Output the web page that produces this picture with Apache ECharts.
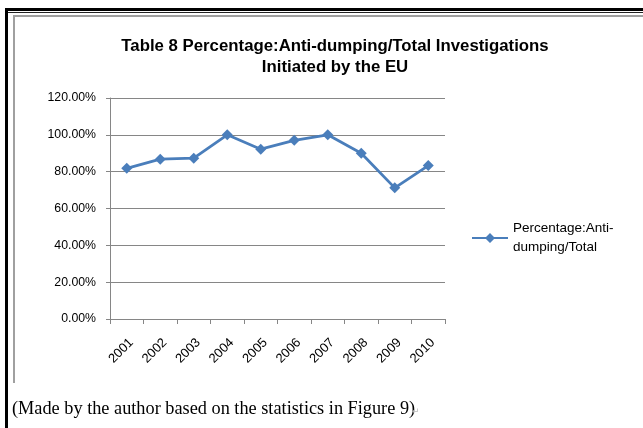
<!DOCTYPE html>
<html><head><meta charset="utf-8">
<script src="https://cdn.jsdelivr.net/npm/echarts@6/dist/echarts.min.js"></script>
<style>html,body{margin:0;padding:0;background:#fff}#c{width:643px;height:428px}</style>
</head><body><div id="c"></div>
<script>
const titleText = 'Table 8 Percentage:Anti-dumping/Total Investigations\nInitiated by the EU';
const seriesName = 'Percentage:Anti-\ndumping/Total';
const categories = ['2001','2002','2003','2004','2005','2006','2007','2008','2009','2010'];
const values = [0.818, 0.868, 0.873, 1.0, 0.922, 0.970, 1.0, 0.900, 0.712, 0.833];
const yTicks = [0, 0.2, 0.4, 0.6, 0.8, 1.0, 1.2];
const caption = '(Made by the author based on the statistics in Figure 9)';

const chart = echarts.init(document.getElementById('c'), null, {renderer:'canvas'});
const font = 'Liberation Sans';
chart.setOption({
  animation:false,
  backgroundColor:'#fff',
  title:{text:titleText,left:330,top:31,textAlign:'center',
    textStyle:{fontFamily:font,fontWeight:'bold',fontSize:16.8,color:'#000',lineHeight:21}},
  legend:{show:true,left:467,top:214,itemWidth:36,itemHeight:10,itemGap:5,
    textStyle:{fontFamily:font,fontSize:13.5,color:'#000',lineHeight:19},
    data:[{name:seriesName,icon:'path://M0,4L36,4L36,6L0,6Z M18,0L23,5L18,10L13,5Z'}]},
  grid:{left:110,top:98,width:335,height:221},
  xAxis:{type:'category',data:categories,boundaryGap:true,
    axisLine:{lineStyle:{color:'#868686',width:1}},
    axisTick:{show:true,interval:0,length:5,lineStyle:{color:'#868686'}},
    axisLabel:{rotate:45,interval:0,margin:17,verticalAlign:'top',fontFamily:font,fontSize:13,color:'#000'}},
  yAxis:{type:'value',min:0,max:1.2,interval:0.2,
    axisLine:{show:true,lineStyle:{color:'#868686'}},
    axisTick:{show:true,length:4,lineStyle:{color:'#868686'}},
    splitLine:{lineStyle:{color:'#868686',width:1}},
    axisLabel:{margin:14,fontFamily:font,fontSize:12.3,color:'#000',
      formatter:v=>(v*100).toFixed(2)+'%'}},
  series:[{name:seriesName,type:'line',data:values,
    symbol:'diamond',symbolSize:11,
    lineStyle:{color:'#4A7EBB',width:2.8},
    itemStyle:{color:'#4A7EBB'}}],
  graphic:[
    {type:'rect',shape:{x:5,y:8,width:700,height:3},style:{fill:'#000'}},
    {type:'rect',shape:{x:5,y:8,width:3,height:430},style:{fill:'#000'}},
    {type:'rect',shape:{x:8,y:12,width:700,height:1},style:{fill:'#222'}},
    {type:'rect',shape:{x:13,y:15,width:700,height:2},style:{fill:'#a0a0a0'}},
    {type:'rect',shape:{x:13,y:15,width:2,height:368},style:{fill:'#a0a0a0'}},
    {type:'text',left:12,top:400,style:{text:caption,font:'18.3px "Liberation Serif"',fill:'#000'}},
    {type:'text',left:412,top:407,style:{text:'\u21b5',font:'9px "DejaVu Sans"',fill:'#bbb'}}
  ]
});
</script></body></html>
